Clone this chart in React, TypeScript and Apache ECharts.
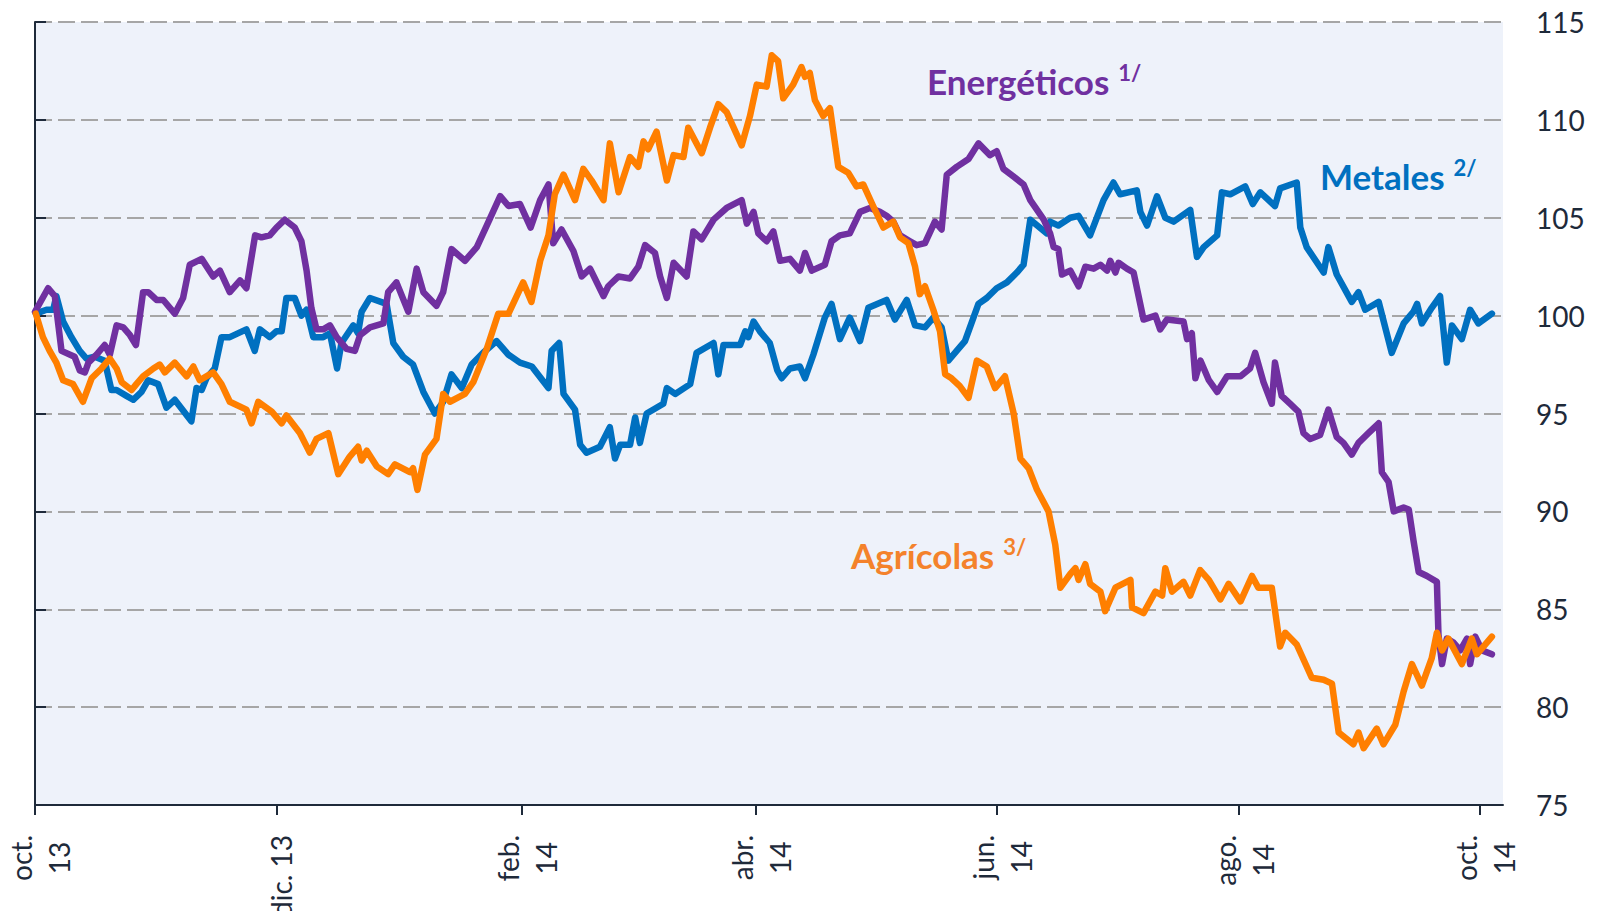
import React, { useEffect, useRef } from "react";
import * as echarts from "echarts";

// Fechas de las marcas del eje horizontal y sus etiquetas
const tickDates = ["2013-10-01", "2013-12-01", "2014-02-01", "2014-04-01", "2014-06-01", "2014-08-01", "2014-10-01"];
const tickLabels = ["oct.\n13", "dic. 13", "feb.\n14", "abr.\n14", "jun.\n14", "ago.\n14", "oct.\n14"];

// Eje vertical (índice)
const yMin = 75;
const yMax = 115;
const yStep = 5;

// Series: [días desde 1-oct-2013, índice]
const energeticos: [number, number][] = [
  [0, 100.2], [3.3, 101.4], [5, 101], [6.7, 98.2], [10, 97.9], [11.3, 97.2], [12.6, 97.1], [13.5, 97.6], [15.5, 98.0], [17.6, 98.5],
  [18.9, 98.0], [20.6, 99.5], [22.3, 99.4], [24, 99.0], [25.5, 98.5], [27.3, 101.2], [28.6, 101.2], [30.7, 100.8], [32.4, 100.8], [35.3, 100.1],
  [37.4, 100.9], [39.1, 102.6], [42.1, 102.9], [45, 102.0], [46.7, 102.3], [49.2, 101.2], [51.8, 101.8], [53.4, 101.4], [55.6, 104.1], [57.2, 104.0],
  [59.3, 104.1], [61, 104.5], [63.1, 104.9], [65.6, 104.5], [67.3, 103.8], [68.6, 102.3], [69.8, 100.4], [71.1, 99.3], [72.8, 99.3], [74.5, 99.5],
  [76.2, 98.9], [78.7, 98.3], [80.8, 98.2], [82.1, 99.0], [84.6, 99.4], [88, 99.6], [89.2, 101.2], [91.3, 101.7], [94.3, 100.2], [96.4, 102.4],
  [98.1, 101.2], [101.4, 100.5], [103.1, 101.2], [105.2, 103.4], [108.6, 102.8], [111.6, 103.5], [114.1, 104.6], [117.5, 106.1], [119.6, 105.6], [122.5, 105.7],
  [125.2, 104.5], [127.6, 105.9], [129.7, 106.7], [130.9, 103.7], [133, 104.4], [136, 103.3], [138.1, 102.0], [140.2, 102.4], [143.6, 101.0], [144.8, 101.5],
  [147.4, 102.0], [150.3, 101.9], [152.4, 102.5], [154.1, 103.6], [156.6, 103.2], [157.9, 102.0], [159.6, 100.9], [161.3, 102.7], [164.6, 102.0], [166.3, 104.3],
  [168.4, 103.9], [171.4, 104.9], [174.7, 105.5], [178.5, 105.9], [179.8, 104.7], [181.5, 105.3], [182.7, 104.2], [184.8, 103.8], [186.5, 104.3], [188.2, 102.8],
  [190.7, 102.9], [193.2, 102.3], [194.5, 103.2], [196.2, 102.3], [199.5, 102.6], [201.2, 103.8], [203.3, 104.1], [205.8, 104.2], [208.4, 105.3], [210.9, 105.5],
  [213.4, 105.3], [215.1, 105.1], [216.8, 104.8], [218.5, 104.1], [221, 103.8], [222.7, 103.6], [224.8, 103.7], [227.3, 104.8], [229, 104.4], [230.3, 107.2],
  [232.8, 107.6], [235.8, 108.0], [238.3, 108.8], [241.2, 108.2], [242.9, 108.4], [244.6, 107.5], [247.2, 107.1], [249.7, 106.7], [251.4, 105.9], [254.8, 104.9],
  [256.4, 104.2], [257.3, 103.5], [258.5, 103.4], [259.4, 102.1], [261.5, 102.3], [263.6, 101.5], [265.3, 102.5], [267.4, 102.4], [269.1, 102.6], [270.8, 102.3],
  [271.6, 102.8], [272.9, 102.2], [273.7, 102.7], [275.8, 102.4], [277.5, 102.2], [280, 99.8], [283, 100.0], [284.2, 99.3], [285.9, 99.8], [290.1, 99.7],
  [291, 98.8], [292.2, 99.1], [293.1, 96.8], [294.4, 97.7], [296.5, 96.7], [298.6, 96.1], [301.1, 96.9], [304.5, 96.9], [306.9, 97.3], [308.2, 98.1],
  [310.3, 96.6], [312.4, 95.5], [313.2, 97.6], [314.9, 95.9], [317, 95.5], [319.1, 95.1], [320.4, 94.0], [322.1, 93.7], [324.6, 93.9], [326.7, 95.2],
  [328.8, 93.8], [330.5, 93.5], [332.6, 92.9], [334.3, 93.5], [336.8, 94.0], [339.4, 94.5], [340.2, 92.0], [341.9, 91.5], [343.2, 90.0], [345.7, 90.2],
  [347, 90.1], [348.2, 88.5], [349.5, 86.9], [351.6, 86.7], [354.1, 86.4], [354.5, 83.7], [355.4, 82.2], [356.6, 83.5], [358.3, 83.3], [360, 82.9],
  [361.7, 83.5], [362.5, 82.2], [363.8, 83.6], [365.5, 82.9], [368, 82.7],
];

const metales: [number, number][] = [
  [0.2, 100.1], [2.9, 100.3], [4.6, 100.3], [5.4, 101.0], [7.1, 99.7], [9.2, 98.9], [11.3, 98.2], [13, 97.8], [15.1, 97.9], [17.6, 97.7],
  [19.3, 96.2], [20.6, 96.2], [23.1, 95.9], [24.8, 95.7], [26.9, 96.1], [28.6, 96.7], [31.1, 96.5], [33.2, 95.3], [35.3, 95.7], [39.5, 94.6],
  [40.8, 96.3], [42.1, 96.2], [43.3, 96.8], [45.4, 97.3], [47.1, 98.9], [49.2, 98.9], [53.4, 99.3], [55.5, 98.2], [56.8, 99.3], [59.3, 98.9],
  [61, 99.2], [62.3, 99.2], [63.5, 100.9], [65.6, 100.9], [67.3, 100.0], [68.6, 100.3], [70.3, 98.9], [72.8, 98.9], [74.5, 99.1], [76.3, 97.3],
  [77.4, 98.6], [80.4, 99.5], [81.6, 99.1], [82.5, 100.2], [84.6, 100.9], [88.8, 100.6], [90.5, 98.6], [93, 97.9], [95.5, 97.5], [98.1, 96.1],
  [101, 95.0], [103.1, 95.6], [105.2, 97.0], [107.8, 96.3], [110.3, 97.5], [113.2, 98.1], [116.6, 98.7], [119.6, 98.0], [122.5, 97.6], [125.5, 97.4],
  [129.7, 96.3], [130.5, 98.2], [132.4, 98.6], [133.5, 96.0], [136.4, 95.2], [137.7, 93.4], [139.3, 93.0], [142.7, 93.3], [145.2, 94.3], [146.5, 92.7],
  [147.8, 93.4], [150.3, 93.4], [151.6, 94.8], [152.8, 93.5], [154.5, 95.0], [158.7, 95.5], [159.6, 96.3], [161.7, 96.0], [165.5, 96.5], [167.1, 98.1],
  [171.4, 98.6], [172.6, 97.0], [173.9, 98.5], [178.1, 98.5], [179.4, 99.2], [180.2, 98.9], [181.5, 99.7], [183.1, 99.2], [185.6, 98.6], [187.5, 97.2],
  [188.6, 96.8], [190.7, 97.3], [193.2, 97.4], [194.5, 96.8], [196.6, 98.0], [199.5, 99.9], [201.2, 100.6], [203.3, 98.8], [205.8, 99.9], [208.4, 98.7],
  [210.5, 100.4], [215.1, 100.8], [217.2, 99.8], [220.2, 100.8], [222.3, 99.5], [224.8, 99.4], [226.9, 99.9], [229, 99.4], [230.7, 97.7], [234.9, 98.7],
  [238.3, 100.6], [240.4, 100.9], [242.9, 101.4], [245.5, 101.7], [248, 102.2], [249.7, 102.6], [251.4, 104.9], [255.6, 104.2], [256.4, 104.8], [258.5, 104.6],
  [261.5, 105.0], [263.6, 105.1], [266.5, 104.1], [269.9, 105.9], [272.4, 106.8], [274.1, 106.2], [278.3, 106.4], [279.2, 105.3], [280.9, 104.6], [283.4, 106.1],
  [285.5, 105.0], [287.6, 104.8], [291.8, 105.4], [293.5, 103.0], [295.2, 103.5], [298.6, 104.1], [299.8, 106.3], [301.9, 106.2], [305.7, 106.6], [307.6, 105.7],
  [309.5, 106.3], [313.2, 105.6], [314.5, 106.5], [318.7, 106.8], [319.6, 104.5], [321.2, 103.5], [325.5, 102.2], [326.7, 103.5], [328.8, 102.1], [332.6, 100.7],
  [334.3, 101.2], [336, 100.3], [339.4, 100.7], [342.7, 98.1], [345.7, 99.6], [348.2, 100.2], [349.1, 100.6], [350.3, 99.6], [352.8, 100.4], [354.9, 101.0],
  [356.6, 97.6], [357.9, 99.5], [360.4, 98.8], [362.5, 100.3], [364.6, 99.6], [368, 100.1],
];

const agricolas: [number, number][] = [
  [0.2, 100.1], [2, 98.9], [3.7, 98.2], [5.4, 97.6], [7.1, 96.7], [9.6, 96.5], [12.1, 95.6], [14.3, 96.8], [16.8, 97.3], [18.9, 97.8],
  [20.6, 97.3], [21.9, 96.6], [24.4, 96.2], [25.6, 96.5], [27.3, 96.9], [29.9, 97.3], [31.5, 97.5], [32.8, 97.1], [35.3, 97.6], [38.3, 96.9],
  [40, 97.4], [41.6, 96.7], [45, 97.1], [47.1, 96.5], [49.2, 95.6], [53.4, 95.2], [54.7, 94.5], [56.4, 95.6], [59.8, 95.1], [62.3, 94.5],
  [63.5, 94.9], [66.9, 94.0], [69.4, 93.0], [71.1, 93.7], [74.1, 94.0], [76.6, 91.9], [79.5, 92.8], [81.6, 93.3], [82.5, 92.6], [83.8, 93.1],
  [86.3, 92.3], [89.2, 91.9], [90.9, 92.4], [94.7, 92.0], [95.5, 92.2], [96.6, 91.1], [98.5, 92.9], [101.4, 93.7], [103.1, 96.0], [104.8, 95.6],
  [108.6, 96.0], [110.7, 96.6], [114.1, 98.3], [117, 100.1], [119.6, 100.1], [123.3, 101.7], [125.4, 100.7], [127.6, 102.8], [129.7, 104.1], [131.3, 106.2],
  [133.5, 107.2], [136.4, 105.9], [138.5, 107.5], [140.6, 106.9], [143.6, 105.9], [145.2, 108.8], [147.4, 106.3], [150.3, 108.1], [152.4, 107.6], [153.7, 108.9],
  [154.9, 108.5], [157, 109.4], [159.6, 106.9], [161.3, 108.2], [163.8, 108.1], [165, 109.6], [168.4, 108.3], [170.5, 109.6], [172.6, 110.8], [174.7, 110.4],
  [178.5, 108.7], [180.6, 110.2], [182.3, 111.8], [184.8, 111.7], [186.1, 113.3], [187.7, 113.0], [189, 111.1], [191.5, 111.8], [193.6, 112.7], [194.5, 112.2],
  [195.7, 112.4], [197, 111.0], [199.1, 110.2], [200.8, 110.6], [202.9, 107.6], [205.4, 107.3], [207.5, 106.6], [209.2, 106.7], [211.7, 105.6], [214.3, 104.5],
  [216.8, 104.8], [218.5, 104.0], [220.6, 103.7], [222.3, 102.5], [223.5, 101.1], [224.8, 101.5], [226.9, 100.3], [228.6, 99.2], [229.9, 97.0], [231.5, 96.8],
  [233.6, 96.4], [235.8, 95.8], [237.9, 97.7], [240.4, 97.4], [242.5, 96.3], [245, 96.9], [247.2, 95.0], [248.9, 92.7], [251, 92.2], [253.1, 91.1],
  [256, 90.0], [257.7, 88.3], [259, 86.1], [261.5, 86.8], [262.8, 87.1], [263.6, 86.5], [265.3, 87.3], [266.5, 86.3], [269.1, 85.9], [270.3, 84.9],
  [272.9, 86.1], [276.7, 86.5], [277.1, 85.1], [280, 84.8], [283, 85.9], [284.7, 85.7], [285.5, 87.1], [287.2, 85.9], [290.1, 86.4], [291.8, 85.7],
  [294.3, 87.0], [296.5, 86.5], [299.4, 85.5], [301.5, 86.3], [304.5, 85.4], [307.4, 86.7], [309, 86.1], [312.4, 86.1], [314.5, 83.1], [315.8, 83.8],
  [318.7, 83.2], [322.5, 81.5], [325.5, 81.4], [327.6, 81.2], [329.3, 78.7], [333, 78.1], [334.3, 78.7], [335.6, 77.9], [338.9, 78.9], [340.6, 78.1],
  [343.6, 79.1], [345.7, 80.8], [347.8, 82.2], [350.3, 81.1], [352.8, 82.5], [354.1, 83.8], [355.4, 82.9], [357, 83.5], [360.4, 82.2], [362.9, 83.5],
  [364.2, 82.7], [368, 83.6],
];

const START = Date.UTC(2013, 9, 1);
const DAY = 86400000;
const dayOf = (s: string) => (Date.parse(s + "T00:00:00Z") - START) / DAY;
const tickDays = tickDates.map(dayOf);

const AXIS_COLOR = "#1E2A3A";
const FONT = "Lato, 'Open Sans', sans-serif";
const PURPLE = "#7030A0";
const BLUE = "#0070C0";
const ORANGE = "#FF7F00";

export default function App() {
  const ref = useRef<HTMLDivElement>(null);
  useEffect(() => {
    if (!ref.current) return;
    const chart = echarts.init(ref.current, undefined, { renderer: "svg" });
    const label = (v: number) => {
      let idx = 0;
      let best = Infinity;
      tickDays.forEach((d, i) => {
        const dd = Math.abs(d - v);
        if (dd < best) { best = dd; idx = i; }
      });
      return tickLabels[idx].split("\n").map((l) => `{c|${l}}`).join("\n");
    };
    const annot = (x: number, y: number, main: string, sup: string, color: string) => ({
      type: "text",
      x,
      y,
      z: 100,
      style: {
        text: `{m|${main}}{s|${sup}}`,
        verticalAlign: "middle",
        align: "left",
        rich: {
          m: { fontSize: 35, fontWeight: "bold", fontFamily: FONT, fill: color, lineHeight: 40 },
          s: { fontSize: 22, fontWeight: "bold", fontFamily: FONT, fill: color, verticalAlign: "top", lineHeight: 26, padding: [0, 0, 0, 9] },
        },
      },
    });
    chart.setOption({
      animation: false,
      grid: {
        left: 35,
        right: 95,
        top: 22,
        bottom: 106,
        show: true,
        backgroundColor: "#EEF2FA",
        borderWidth: 0,
        containLabel: false,
        outerBoundsMode: "none",
      },
      xAxis: {
        type: "value",
        min: 0,
        max: 370.8,
        splitLine: { show: false },
        axisLine: { show: true, onZero: false, lineStyle: { color: AXIS_COLOR, width: 2 } },
        axisTick: { show: true, customValues: tickDays, length: 10, inside: false, lineStyle: { color: AXIS_COLOR, width: 2 } },
        axisLabel: {
          customValues: tickDays,
          rotate: 90,
          margin: 30,
          padding: [10, 0, 0, 0],
          formatter: label,
          rich: {
            c: { align: "center", fontSize: 28, fontFamily: FONT, color: AXIS_COLOR, lineHeight: 38 },
          },
        },
      },
      yAxis: {
        type: "value",
        position: "right",
        min: yMin,
        max: yMax,
        interval: yStep,
        axisLine: { show: true, lineStyle: { color: AXIS_COLOR, width: 2 } },
        axisTick: { show: true, length: 11, inside: false, lineStyle: { color: AXIS_COLOR, width: 2 } },
        axisLabel: { fontSize: 28, fontFamily: FONT, color: AXIS_COLOR, margin: 33 },
        splitLine: { show: true, lineStyle: { type: [17, 6], color: "#A6A6A6", width: 2 } },
      },
      series: [
        { name: "Metales", type: "line", data: metales, showSymbol: false, z: 2, lineStyle: { color: BLUE, width: 6.5, join: "round", cap: "round" } },
        { name: "Energéticos", type: "line", data: energeticos, showSymbol: false, z: 3, lineStyle: { color: PURPLE, width: 6.5, join: "round", cap: "round" } },
        { name: "Agrícolas", type: "line", data: agricolas, showSymbol: false, z: 4, lineStyle: { color: ORANGE, width: 6.5, join: "round", cap: "round" } },
      ],
      graphic: [
        annot(927, 81, "Energéticos", "1/", PURPLE),
        annot(1320, 176, "Metales", "2/", BLUE),
        annot(851, 555, "Agrícolas", "3/", "#F4822B"),
      ],
    });
    return () => chart.dispose();
  }, []);
  return <div ref={ref} style={{ position: "absolute", left: 0, top: 0, width: "1598px", height: "911px" }} />;
}
